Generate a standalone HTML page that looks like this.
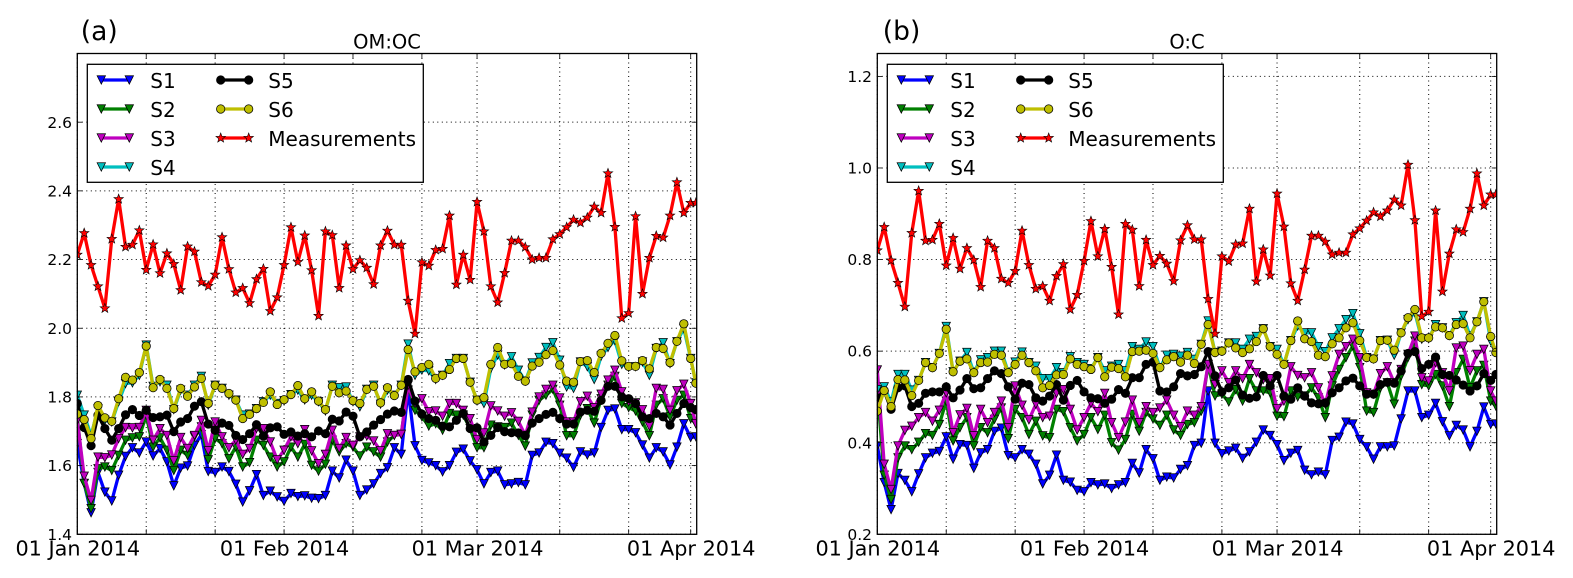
<!DOCTYPE html>
<html lang="en">
<head>
<meta charset="utf-8">
<title>OM:OC and O:C time series</title>
<style>
html,body{margin:0;padding:0;background:#fff;width:1573px;height:578px;overflow:hidden}
svg{display:block}
text{font-family:"DejaVu Sans","Liberation Sans",sans-serif;fill:#000}
</style>
</head>
<body>
<svg id="figure" xmlns="http://www.w3.org/2000/svg" width="1573" height="578" viewBox="0 0 1573 578"></svg>
<script>
const sampleTimes = [0,1,2,3,4,5,6,7,8,9,10,11,12,13,14,15,16,17,18,19,20,21,22,23,24,25,26,27,28,29,30,31,32,33,34,35,36,37,38,39,40,41,42,43,44,45,46,47,48,49,50,51,52,53,54,55,56,57,58,59,60,61,62,63,64,65,66,67,68,69,70,71,72,73,74,75,76,77,78,79,80,81,82,83,84,85,86,87,88,89,89.75];
const xTickTimes = [0,10,20,30,40,50,58,70,80,89];
const xTickLabels = ['01 Jan 2014','','','01 Feb 2014','','','01 Mar 2014','','','01 Apr 2014'];
const seriesNames = ['S1','S2','S3','S4','S5','S6','Measurements'];

const omYTicks = [1.4,1.6,1.8,2.0,2.2,2.4,2.6];
const omYLabels = ['1.4','1.6','1.8','2.0','2.2','2.4','2.6'];
const omS1 = [1.664,1.548,1.463,1.58,1.523,1.497,1.572,1.627,1.652,1.637,1.669,1.628,1.65,1.611,1.541,1.593,1.599,1.659,1.69,1.583,1.58,1.596,1.583,1.546,1.494,1.527,1.574,1.513,1.526,1.509,1.496,1.519,1.51,1.512,1.505,1.504,1.513,1.584,1.564,1.616,1.584,1.513,1.529,1.547,1.577,1.594,1.652,1.633,1.82,1.658,1.615,1.608,1.6,1.582,1.6,1.639,1.648,1.614,1.588,1.547,1.58,1.584,1.544,1.547,1.551,1.544,1.63,1.637,1.668,1.664,1.636,1.622,1.595,1.64,1.631,1.637,1.711,1.761,1.765,1.705,1.705,1.696,1.66,1.622,1.652,1.64,1.602,1.654,1.722,1.682,1.684];
const omS2 = [1.742,1.548,1.475,1.591,1.596,1.586,1.63,1.674,1.681,1.684,1.747,1.654,1.681,1.645,1.586,1.645,1.63,1.684,1.713,1.617,1.679,1.664,1.62,1.654,1.596,1.609,1.674,1.659,1.625,1.596,1.611,1.654,1.625,1.662,1.601,1.584,1.604,1.674,1.64,1.664,1.654,1.628,1.654,1.64,1.625,1.669,1.688,1.691,1.839,1.761,1.742,1.715,1.722,1.703,1.752,1.747,1.747,1.708,1.652,1.652,1.718,1.713,1.711,1.724,1.688,1.657,1.747,1.79,1.805,1.822,1.776,1.687,1.687,1.747,1.766,1.724,1.795,1.834,1.86,1.781,1.769,1.759,1.727,1.687,1.776,1.795,1.742,1.79,1.805,1.737,1.722];
const omS3 = [1.732,1.569,1.499,1.625,1.623,1.631,1.679,1.711,1.71,1.711,1.761,1.674,1.708,1.688,1.614,1.682,1.65,1.688,1.732,1.643,1.727,1.684,1.652,1.674,1.633,1.65,1.708,1.708,1.669,1.617,1.645,1.684,1.664,1.705,1.643,1.606,1.633,1.703,1.65,1.682,1.659,1.684,1.686,1.672,1.643,1.693,1.688,1.691,1.834,1.781,1.795,1.757,1.759,1.744,1.781,1.781,1.761,1.737,1.676,1.695,1.774,1.759,1.744,1.754,1.729,1.688,1.756,1.8,1.822,1.834,1.797,1.727,1.727,1.786,1.802,1.769,1.808,1.849,1.878,1.815,1.786,1.783,1.763,1.715,1.825,1.822,1.761,1.818,1.837,1.781,1.722];
const omS4 = [1.805,1.747,1.688,1.766,1.732,1.727,1.786,1.839,1.841,1.863,1.951,1.831,1.844,1.834,1.763,1.82,1.805,1.834,1.86,1.776,1.834,1.825,1.805,1.791,1.747,1.75,1.766,1.786,1.805,1.781,1.789,1.807,1.82,1.791,1.805,1.786,1.759,1.834,1.827,1.829,1.786,1.771,1.822,1.834,1.779,1.82,1.805,1.834,1.954,1.863,1.878,1.876,1.851,1.863,1.897,1.912,1.912,1.843,1.791,1.781,1.883,1.922,1.893,1.917,1.878,1.846,1.899,1.915,1.944,1.958,1.907,1.829,1.825,1.902,1.888,1.851,1.919,1.944,1.964,1.895,1.886,1.888,1.902,1.863,1.941,1.958,1.897,1.961,1.999,1.912,1.841];
const omS5 = [1.781,1.711,1.658,1.747,1.708,1.674,1.708,1.748,1.763,1.746,1.761,1.74,1.742,1.747,1.699,1.727,1.737,1.773,1.786,1.721,1.703,1.724,1.717,1.688,1.676,1.693,1.719,1.686,1.71,1.713,1.691,1.698,1.686,1.693,1.684,1.701,1.693,1.735,1.73,1.756,1.744,1.684,1.698,1.718,1.734,1.75,1.759,1.755,1.851,1.788,1.75,1.737,1.732,1.715,1.713,1.732,1.752,1.708,1.71,1.669,1.688,1.711,1.699,1.696,1.695,1.687,1.724,1.737,1.749,1.755,1.737,1.721,1.721,1.756,1.761,1.758,1.79,1.831,1.831,1.8,1.795,1.781,1.742,1.737,1.752,1.742,1.718,1.752,1.781,1.769,1.763];
const omS6 = [1.75,1.734,1.679,1.775,1.739,1.729,1.795,1.857,1.849,1.871,1.948,1.827,1.851,1.825,1.766,1.825,1.802,1.829,1.854,1.781,1.834,1.825,1.81,1.791,1.737,1.749,1.766,1.784,1.815,1.778,1.792,1.807,1.833,1.795,1.815,1.788,1.763,1.831,1.812,1.817,1.789,1.781,1.822,1.831,1.783,1.827,1.804,1.834,1.938,1.873,1.886,1.895,1.854,1.863,1.88,1.912,1.912,1.843,1.791,1.798,1.895,1.944,1.895,1.897,1.86,1.846,1.89,1.901,1.923,1.935,1.893,1.846,1.843,1.903,1.906,1.871,1.927,1.956,1.979,1.905,1.889,1.889,1.906,1.882,1.944,1.941,1.9,1.962,2.013,1.912,1.84];
const omMeasurements = [2.214,2.277,2.184,2.122,2.058,2.26,2.376,2.237,2.243,2.285,2.17,2.244,2.16,2.218,2.187,2.111,2.238,2.223,2.134,2.123,2.156,2.265,2.172,2.104,2.117,2.073,2.143,2.173,2.05,2.09,2.184,2.294,2.193,2.27,2.169,2.036,2.282,2.271,2.117,2.241,2.172,2.198,2.176,2.128,2.241,2.284,2.243,2.243,2.08,1.984,2.192,2.182,2.228,2.231,2.328,2.127,2.214,2.141,2.368,2.282,2.122,2.075,2.161,2.255,2.255,2.236,2.2,2.205,2.205,2.259,2.274,2.294,2.316,2.307,2.322,2.354,2.336,2.451,2.295,2.029,2.044,2.326,2.1,2.205,2.269,2.264,2.328,2.425,2.336,2.365,2.365];

const ocYTicks = [0.2,0.4,0.6,0.8,1.0,1.2];
const ocYLabels = ['0.2','0.4','0.6','0.8','1.0','1.2'];
const ocS1 = [0.393,0.313,0.254,0.333,0.318,0.293,0.332,0.367,0.377,0.381,0.413,0.364,0.396,0.394,0.344,0.378,0.385,0.425,0.432,0.372,0.367,0.385,0.375,0.353,0.31,0.329,0.373,0.318,0.314,0.296,0.293,0.313,0.308,0.31,0.3,0.308,0.313,0.355,0.334,0.385,0.365,0.318,0.325,0.323,0.342,0.35,0.394,0.399,0.513,0.399,0.376,0.382,0.388,0.366,0.38,0.401,0.428,0.416,0.396,0.361,0.377,0.383,0.34,0.33,0.336,0.33,0.405,0.412,0.445,0.441,0.407,0.391,0.364,0.391,0.391,0.393,0.452,0.513,0.513,0.455,0.46,0.486,0.446,0.415,0.438,0.428,0.391,0.425,0.478,0.44,0.441];
const ocS2 = [0.516,0.329,0.276,0.367,0.393,0.385,0.401,0.42,0.416,0.44,0.491,0.404,0.433,0.455,0.393,0.433,0.422,0.451,0.476,0.409,0.473,0.455,0.418,0.447,0.415,0.411,0.473,0.468,0.433,0.404,0.418,0.455,0.429,0.46,0.4,0.384,0.407,0.462,0.425,0.466,0.452,0.438,0.46,0.428,0.416,0.44,0.444,0.469,0.571,0.502,0.506,0.489,0.516,0.491,0.54,0.513,0.513,0.509,0.458,0.457,0.513,0.5,0.502,0.52,0.498,0.455,0.524,0.56,0.586,0.611,0.564,0.469,0.466,0.52,0.531,0.484,0.546,0.586,0.622,0.527,0.524,0.549,0.524,0.479,0.553,0.582,0.52,0.557,0.569,0.491,0.48];
const ocS3 = [0.559,0.353,0.298,0.393,0.427,0.436,0.455,0.466,0.447,0.471,0.509,0.422,0.461,0.475,0.415,0.473,0.444,0.466,0.491,0.433,0.524,0.482,0.45,0.484,0.455,0.458,0.508,0.516,0.473,0.428,0.455,0.486,0.468,0.508,0.444,0.411,0.445,0.493,0.444,0.479,0.466,0.476,0.493,0.46,0.435,0.469,0.46,0.479,0.571,0.527,0.557,0.531,0.557,0.54,0.571,0.553,0.538,0.54,0.474,0.491,0.566,0.547,0.542,0.553,0.52,0.484,0.546,0.593,0.61,0.626,0.586,0.509,0.506,0.551,0.566,0.531,0.56,0.593,0.633,0.542,0.535,0.575,0.553,0.513,0.607,0.611,0.557,0.593,0.604,0.513,0.491];
const ocS4 = [0.516,0.522,0.489,0.549,0.549,0.515,0.536,0.575,0.564,0.595,0.654,0.555,0.578,0.597,0.554,0.581,0.586,0.6,0.6,0.554,0.576,0.598,0.575,0.567,0.54,0.54,0.564,0.553,0.588,0.575,0.571,0.562,0.586,0.557,0.567,0.571,0.557,0.61,0.604,0.62,0.61,0.564,0.591,0.593,0.589,0.597,0.582,0.615,0.666,0.597,0.6,0.618,0.618,0.604,0.626,0.632,0.649,0.61,0.604,0.571,0.623,0.655,0.64,0.64,0.61,0.599,0.629,0.649,0.669,0.682,0.638,0.586,0.583,0.623,0.624,0.591,0.64,0.669,0.684,0.626,0.627,0.658,0.651,0.634,0.662,0.678,0.633,0.664,0.708,0.622,0.6];
const ocS5 = [0.498,0.513,0.473,0.52,0.524,0.479,0.486,0.508,0.511,0.511,0.522,0.498,0.515,0.54,0.518,0.52,0.54,0.557,0.551,0.522,0.495,0.53,0.527,0.498,0.491,0.502,0.527,0.493,0.525,0.536,0.511,0.498,0.496,0.486,0.495,0.516,0.508,0.542,0.542,0.571,0.576,0.513,0.511,0.522,0.551,0.546,0.549,0.566,0.599,0.546,0.511,0.52,0.537,0.504,0.497,0.5,0.547,0.524,0.547,0.502,0.495,0.52,0.502,0.487,0.485,0.487,0.509,0.52,0.535,0.541,0.524,0.506,0.506,0.527,0.532,0.53,0.557,0.595,0.599,0.562,0.571,0.587,0.549,0.547,0.537,0.526,0.513,0.524,0.551,0.536,0.549];
const ocS6 = [0.469,0.514,0.479,0.538,0.537,0.503,0.536,0.575,0.564,0.595,0.648,0.555,0.578,0.583,0.553,0.575,0.576,0.593,0.591,0.553,0.571,0.591,0.575,0.557,0.52,0.525,0.548,0.549,0.583,0.571,0.566,0.56,0.586,0.544,0.565,0.562,0.544,0.599,0.6,0.602,0.595,0.564,0.581,0.588,0.576,0.591,0.573,0.615,0.658,0.597,0.6,0.618,0.607,0.597,0.605,0.621,0.649,0.61,0.593,0.571,0.623,0.666,0.627,0.621,0.591,0.588,0.616,0.629,0.651,0.662,0.623,0.586,0.583,0.623,0.624,0.602,0.64,0.673,0.691,0.629,0.629,0.653,0.651,0.634,0.658,0.66,0.629,0.664,0.708,0.632,0.597];
const ocMeasurements = [0.82,0.871,0.798,0.749,0.697,0.858,0.95,0.841,0.843,0.878,0.787,0.847,0.78,0.825,0.799,0.74,0.841,0.825,0.758,0.749,0.775,0.863,0.788,0.736,0.742,0.71,0.764,0.79,0.691,0.723,0.797,0.884,0.807,0.867,0.784,0.68,0.878,0.865,0.742,0.843,0.788,0.808,0.791,0.753,0.842,0.875,0.844,0.844,0.714,0.638,0.807,0.796,0.833,0.835,0.911,0.752,0.822,0.765,0.944,0.872,0.748,0.71,0.778,0.852,0.852,0.839,0.811,0.815,0.815,0.855,0.868,0.885,0.903,0.894,0.907,0.931,0.918,1.007,0.886,0.676,0.686,0.907,0.73,0.813,0.866,0.86,0.911,0.988,0.918,0.942,0.942];

const seriesColors = ['#0000ff','#008000','#bf00bf','#00bfbf','#000000','#bfbf00','#ff0000'];
const seriesMarkers = ['v','v','v','v','o','o','*'];
const SVGNS = 'http://www.w3.org/2000/svg';
const fig = document.getElementById('figure');

function node(parent, tag, attrs, content) {
  const el = document.createElementNS(SVGNS, tag);
  for (const k in attrs) el.setAttribute(k, attrs[k]);
  if (content !== undefined) el.textContent = content;
  parent.appendChild(el);
  return el;
}

function drawMarker(parent, kind, cx, cy, color) {
  const edge = {fill: color, stroke: '#000', 'stroke-width': kind === '*' ? 0.6 : 0.75};
  if (kind === 'o') return node(parent, 'circle', Object.assign({cx: cx, cy: cy, r: 4.2}, edge));
  let pts = [];
  if (kind === 'v') {
    pts = [[cx - 4.2, cy - 4.2], [cx + 4.2, cy - 4.2], [cx, cy + 4.2]];
  } else {
    for (let k = 0; k < 10; k++) {
      const r = k % 2 ? 2.1 : 5;
      const a = -Math.PI / 2 + k * Math.PI / 5;
      pts.push([cx + r * Math.cos(a), cy + r * Math.sin(a)]);
    }
  }
  return node(parent, 'polygon', Object.assign({points: pts.map(p => p[0].toFixed(2) + ',' + p[1].toFixed(2)).join(' ')}, edge));
}

function drawPanel(p) {
  const L = p.left, R = p.left + 619.4, T = 53.5, B = 534.3;
  const xScale = t => L + t / 89.87 * (R - L);
  const yScale = v => B - (v - p.yMin) / (p.yMax - p.yMin) * (B - T);

  const panel = node(fig, 'g', {});
  
  

  const defs = node(panel, 'defs', {});
  const clip = node(defs, 'clipPath', {id: p.id + '-clip'});
  node(clip, 'rect', {x: L, y: T, width: R - L, height: B - T});

  const gridGroup = node(panel, 'g', {stroke: '#000', 'stroke-width': 1, 'stroke-dasharray': '1 3.5'});
  
  
  xTickTimes.forEach(t => {
    const gx = node(gridGroup, 'line', {x1: xScale(t), x2: xScale(t), y1: T, y2: B});
    
    
  });
  p.yTicks.forEach(v => {
    const gy = node(gridGroup, 'line', {x1: L, x2: R, y1: yScale(v), y2: yScale(v)});
    
    
  });

  const plot = node(panel, 'g', {'clip-path': 'url(#' + p.id + '-clip)'});
  
  
  p.series.forEach((vals, s) => {
    const g = node(plot, 'g', {});
    
    
    const pts = vals.map((v, i) => xScale(sampleTimes[i]).toFixed(2) + ',' + yScale(v).toFixed(2)).join(' ');
    const line = node(g, 'polyline', {points: pts, fill: 'none', stroke: seriesColors[s], 'stroke-width': 3.3, 'stroke-linejoin': 'round'});
    
    
    vals.forEach((v, i) => {
      const m = drawMarker(g, seriesMarkers[s], xScale(sampleTimes[i]), yScale(v), seriesColors[s]);
      
      
    });
  });

  const tickGroup = node(panel, 'g', {stroke: '#000', 'stroke-width': 0.8});
  
  
  xTickTimes.forEach(t => {
    node(tickGroup, 'line', {x1: xScale(t), x2: xScale(t), y1: B, y2: B - 5});
    node(tickGroup, 'line', {x1: xScale(t), x2: xScale(t), y1: T, y2: T + 5});
  });
  p.yTicks.forEach(v => {
    node(tickGroup, 'line', {x1: L, x2: L + 5, y1: yScale(v), y2: yScale(v)});
    node(tickGroup, 'line', {x1: R, x2: R - 5, y1: yScale(v), y2: yScale(v)});
  });

  const frame = node(panel, 'rect', {x: L, y: T, width: R - L, height: B - T, fill: 'none', stroke: '#000', 'stroke-width': 1.3});
  
  

  p.yTicks.forEach((v, i) => {
    const t = node(panel, 'text', {x: L - 5.3, y: yScale(v) + 5.6, 'text-anchor': 'end', 'font-size': 15.5}, p.yLabels[i]);
    
    
  });
  xTickTimes.forEach((tt, i) => {
    if (!xTickLabels[i]) return;
    const t = node(panel, 'text', {x: xScale(tt) + 0.5, y: 555.5, 'text-anchor': 'middle', 'font-size': 20.8}, xTickLabels[i]);
    
    
  });

  const title = node(panel, 'text', {x: (L + R) / 2, y: 48.3, 'text-anchor': 'middle', 'font-size': 19.5}, p.title);
  
  
  const letter = node(panel, 'text', {x: L + p.letterInset, y: 39.8, 'font-size': 26.5}, p.letter);
  
  

  const lx = L + 10;
  const legend = node(panel, 'g', {});
  
  
  node(legend, 'rect', {x: lx, y: 64.3, width: 336, height: 118, fill: '#fff', stroke: '#000', 'stroke-width': 1.3});
  seriesNames.forEach((name, s) => {
    const col = s < 4 ? 0 : 1;
    const row = s < 4 ? s : s - 4;
    const x0 = lx + 14 + col * 119.4;
    const ry = 80 + row * 29;
    const entry = node(legend, 'g', {});
    
    
    node(entry, 'line', {x1: x0, x2: x0 + 28, y1: ry, y2: ry, stroke: seriesColors[s], 'stroke-width': 3.3});
    drawMarker(entry, seriesMarkers[s], x0, ry, seriesColors[s]);
    drawMarker(entry, seriesMarkers[s], x0 + 28, ry, seriesColors[s]);
    node(entry, 'text', {x: lx + 63 + col * 118, y: ry + 7.9, 'font-size': 20}, name);
  });
}

drawPanel({id: 'om-oc', left: 77.3, yMin: 1.4, yMax: 2.8, yTicks: omYTicks, yLabels: omYLabels, title: 'OM:OC', letter: '(a)', letterInset: 3.5,
  series: [omS1, omS2, omS3, omS4, omS5, omS6, omMeasurements]});
drawPanel({id: 'o-c', left: 877.3, yMin: 0.2, yMax: 1.25, yTicks: ocYTicks, yLabels: ocYLabels, title: 'O:C', letter: '(b)', letterInset: 5.5,
  series: [ocS1, ocS2, ocS3, ocS4, ocS5, ocS6, ocMeasurements]});
</script>
</body>
</html>
